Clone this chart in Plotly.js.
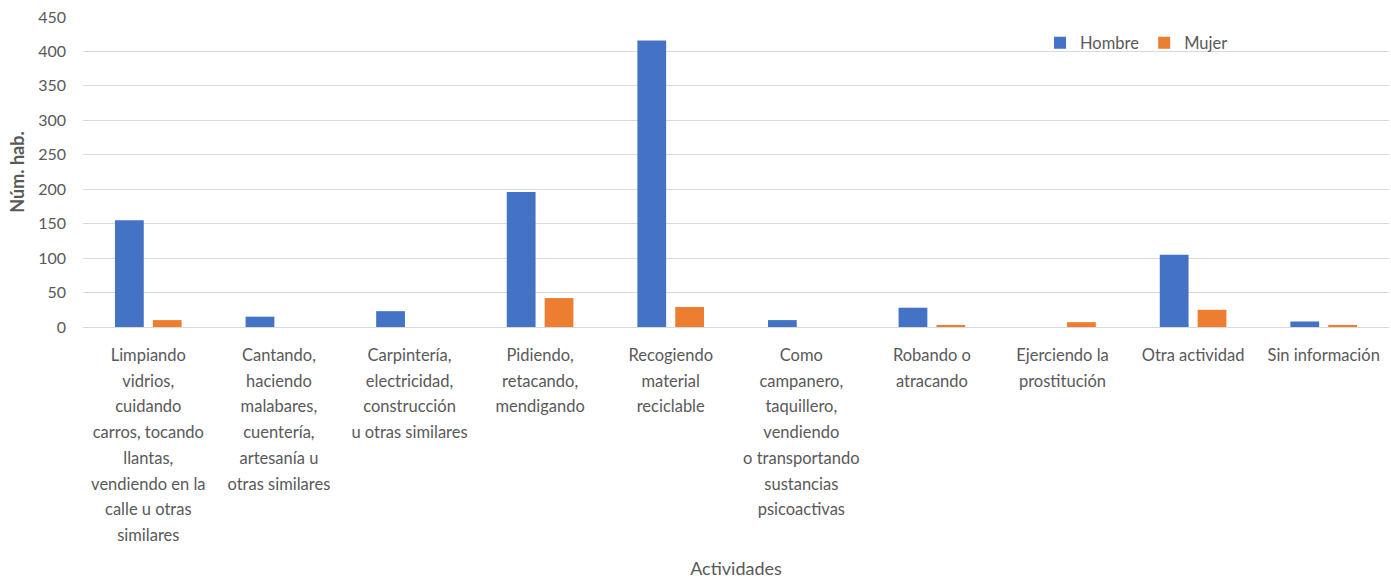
<!DOCTYPE html>
<html>
<head>
<meta charset="utf-8">
<script src="https://cdn.plot.ly/plotly-3.0.1.min.js"></script>
<style>html,body{margin:0;padding:0;background:#fff;}#chart{width:1391px;height:579px;}</style>
</head>
<body>
<div id="chart"></div>
<script>
const categories = [
  "Limpiando<br>vidrios,<br>cuidando<br>carros, tocando<br>llantas,<br>vendiendo en la<br>calle u otras<br>similares",
  "Cantando,<br>haciendo<br>malabares,<br>cuentería,<br>artesanía u<br>otras similares",
  "Carpintería,<br>electricidad,<br>construcción<br>u otras similares",
  "Pidiendo,<br>retacando,<br>mendigando",
  "Recogiendo<br>material<br>reciclable",
  "Como<br>campanero,<br>taquillero,<br>vendiendo<br>o transportando<br>sustancias<br>psicoactivas",
  "Robando o<br>atracando",
  "Ejerciendo la<br>prostitución",
  "Otra actividad",
  "Sin información"
];
const hombre = [155, 15, 23, 196, 416, 10, 28, 0, 105, 8];
const mujer  = [10, 0, 0, 42, 29, 0, 3, 7, 25, 3];
const yTicks = [0, 50, 100, 150, 200, 250, 300, 350, 400, 450];

const textColor = "#595959";
const fontFam = "Lato, 'Open Sans', sans-serif";

// wider line spacing: outer font sets spacing, inner span sets glyph size
const tickText = categories.map(c => c.split("<br>")
  .map(l => '<span style="font-size:16.5px">' + l + '</span>').join("<br>"));

const traces = [
  {type: "bar", name: "Hombre", x: categories, y: hombre, marker: {color: "#4472C4"}},
  {type: "bar", name: "Mujer", x: categories, y: mujer, marker: {color: "#ED7D31"}}
];

const layout = {
  width: 1391, height: 579,
  margin: {l: 83, r: 2, t: 17, b: 252},
  paper_bgcolor: "#fff", plot_bgcolor: "#fff",
  barmode: "group", bargap: 0.42, bargroupgap: 0.24,
  font: {family: fontFam, color: textColor, size: 15},
  showlegend: true,
  legend: {orientation: "h", xref: "paper", yanchor: "middle", bgcolor: "rgba(0,0,0,0)",
    font: {size: 16.5, color: textColor}, itemwidth: 30, traceorder: "normal"},
  xaxis: {
    type: "category", tickangle: 0, showgrid: false, showline: false, ticks: "",
    tickvals: categories, ticktext: tickText,
    tickfont: {size: 19.8, color: textColor}, ticklabelstandoff: 13,
    title: {text: "Actividades", font: {size: 18, color: textColor}, standoff: 20}
  },
  yaxis: {
    range: [0, 450], tickvals: yTicks, showgrid: true, gridcolor: "#d9d9d9",
    zeroline: true, zerolinecolor: "#d9d9d9", showline: false, ticks: "",
    tickfont: {size: 16, color: textColor}, ticklabelstandoff: 16,
    title: {text: "<b>Núm. hab.</b>", font: {size: 18, color: textColor}, standoff: 8}
  }
};
layout.legend.x = (1040 - 83) / (1391 - 85);
layout.legend.y = (327 - 43) / 310;
Plotly.newPlot("chart", traces, layout, {displayModeBar: false, staticPlot: true});
</script>
</body>
</html>
